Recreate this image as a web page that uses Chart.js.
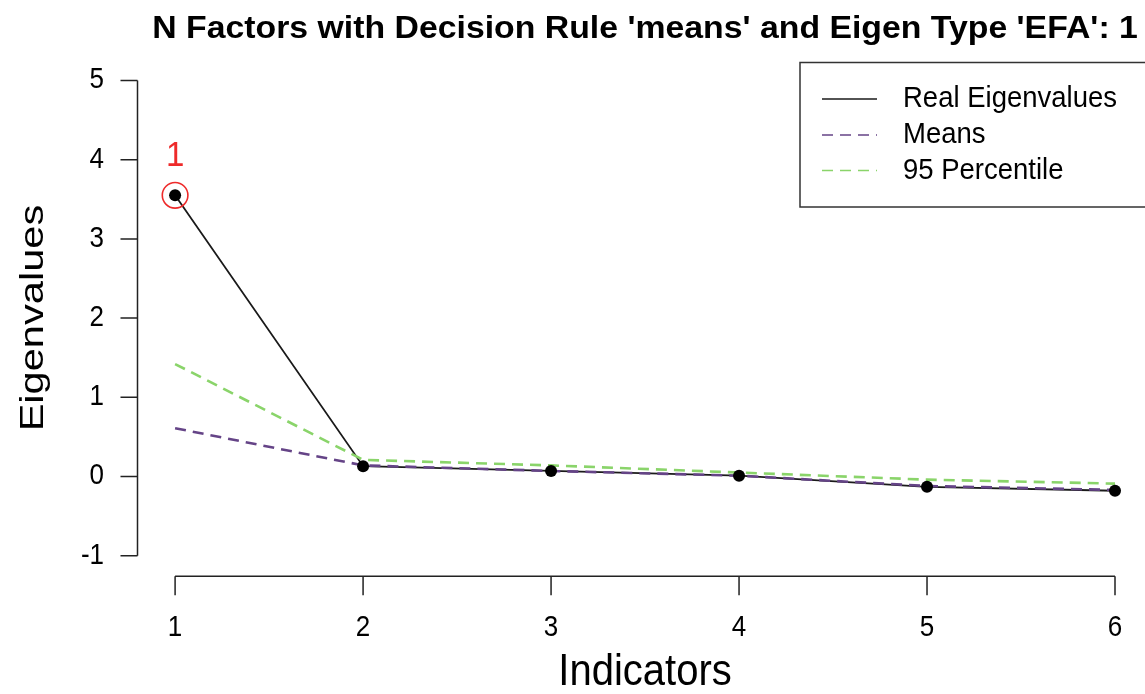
<!DOCTYPE html>
<html>
<head>
<meta charset="utf-8">
<script src="https://cdn.jsdelivr.net/npm/chart.js@4.4.1/dist/chart.umd.min.js"></script>
<style>
  html, body { margin: 0; padding: 0; background: #ffffff; overflow: hidden; }
  #wrap { width: 1145px; height: 694px; overflow: hidden; position: relative; }
  canvas { display: block; }
</style>
</head>
<body>
<div id="wrap"><canvas id="scree" width="1160" height="694"></canvas></div>
<script>
// Scree data: observed eigenvalues against simulated reference eigenvalues
const indicators = [1, 2, 3, 4, 5, 6];
const realEigenvalues = [3.55, 0.13, 0.07, 0.01, -0.13, -0.18];
const meanEigenvalues = [0.61, 0.14, 0.07, 0.01, -0.12, -0.17];
const percentile95 = [1.42, 0.21, 0.14, 0.05, -0.04, -0.09];

const yTicks = [-1, 0, 1, 2, 3, 4, 5];
const xTicks = indicators;
const nFactors = 1;

const titleText = "N Factors with Decision Rule 'means' and Eigen Type 'EFA': " + nFactors;
const seriesNames = ['Real Eigenvalues', 'Means', '95 Percentile'];
const xTitle = 'Indicators';
const yTitle = 'Eigenvalues';

const COL_REAL = '#1a1a1a';
const COL_MEAN = '#654487';
const COL_P95 = '#8ad46a';
const DASH = [11, 7];
const FONT = '"Liberation Sans", Arial, Helvetica, sans-serif';

const toXY = arr => arr.map((v, i) => ({ x: indicators[i], y: v }));

// Draw text with an optional stretch (sx, sy) and rotation
function drawText(ctx, txt, x, y, opt) {
  ctx.save();
  ctx.translate(x, y);
  if (opt.rot) ctx.rotate(opt.rot);
  ctx.scale(opt.sx || 1, opt.sy || 1);
  ctx.font = opt.font;
  ctx.fillStyle = opt.color || '#000';
  ctx.textAlign = opt.align || 'center';
  ctx.textBaseline = opt.baseline || 'alphabetic';
  ctx.fillText(txt, 0, 0);
  ctx.restore();
}

const basePlot = {
  id: 'basePlot',
  afterDatasetsDraw(chart) {
    const { ctx, chartArea, scales } = chart;
    const xs = scales.x, ys = scales.y;

    ctx.save();
    ctx.strokeStyle = '#222';
    ctx.lineWidth = 1.5;
    ctx.lineCap = 'butt';

    // y axis: line from first to last tick, ticks pointing left
    const axX = chartArea.left;
    ctx.beginPath();
    ctx.moveTo(axX, ys.getPixelForValue(yTicks[0]));
    ctx.lineTo(axX, ys.getPixelForValue(yTicks[yTicks.length - 1]));
    yTicks.forEach(t => {
      const py = ys.getPixelForValue(t);
      ctx.moveTo(axX, py);
      ctx.lineTo(axX - 17, py);
    });
    ctx.stroke();
    yTicks.forEach(t => {
      drawText(ctx, String(t), 104, ys.getPixelForValue(t), {
        font: '26px ' + FONT, align: 'right', baseline: 'middle', sy: 1.1
      });
    });

    // x axis: line from first to last tick, ticks pointing down
    const axY = chartArea.bottom + 1.5;
    ctx.beginPath();
    ctx.moveTo(xs.getPixelForValue(xTicks[0]), axY);
    ctx.lineTo(xs.getPixelForValue(xTicks[xTicks.length - 1]), axY);
    xTicks.forEach(t => {
      const px = xs.getPixelForValue(t);
      ctx.moveTo(px, axY);
      ctx.lineTo(px, axY + 19);
    });
    ctx.stroke();
    xTicks.forEach(t => {
      drawText(ctx, String(t), xs.getPixelForValue(t), 628, {
        font: '26px ' + FONT, align: 'center', baseline: 'middle', sy: 1.1
      });
    });

    // Titles
    const midX = (chartArea.left + chartArea.right) / 2;
    const midY = (chartArea.top + chartArea.bottom) / 2;
    drawText(ctx, titleText, midX, 38, { font: 'bold 33.8px ' + FONT, sy: 0.95 });
    drawText(ctx, xTitle, midX, 685, { font: '40px ' + FONT, sy: 1.13 });
    drawText(ctx, yTitle, 43, midY, { font: '33px ' + FONT, rot: -Math.PI / 2, sx: 1.26 });

    // Highlight of the retained factor
    const idx = nFactors - 1;
    const cx = xs.getPixelForValue(indicators[idx]);
    const cy = ys.getPixelForValue(realEigenvalues[idx]);
    ctx.strokeStyle = '#ee2a2a';
    ctx.lineWidth = 1.6;
    ctx.beginPath();
    ctx.arc(cx, cy, 12.8, 0, Math.PI * 2);
    ctx.stroke();
    drawText(ctx, String(nFactors), cx, cy - 29, {
      font: '33px ' + FONT, color: '#ee2a2a', sy: 1.05
    });

    // Legend box
    const lx = 800, ly = 62.5, lw = 360, lh = 144.5;
    ctx.fillStyle = '#ffffff';
    ctx.fillRect(lx, ly, lw, lh);
    ctx.strokeStyle = '#333';
    ctx.lineWidth = 1.5;
    ctx.strokeRect(lx, ly, lw, lh);
    const rows = [99, 135, 170.5];
    chart.data.datasets.slice(0, 3).forEach((ds, i) => {
      const ry = rows[i];
      ctx.strokeStyle = ds.borderColor;
      ctx.lineWidth = 1.6;
      ctx.setLineDash(ds.borderDash || []);
      ctx.beginPath();
      ctx.moveTo(822, ry);
      ctx.lineTo(877, ry);
      ctx.stroke();
      ctx.setLineDash([]);
      drawText(ctx, seriesNames[i], 903, ry, {
        font: '27.5px ' + FONT, align: 'left', baseline: 'middle', sy: 1.1
      });
    });
    ctx.restore();
  }
};

new Chart(document.getElementById('scree'), {
  type: 'line',
  data: {
    datasets: [
      {
        label: seriesNames[0], data: toXY(realEigenvalues),
        borderColor: COL_REAL, borderWidth: 1.8, pointRadius: 0, order: 3
      },
      {
        label: seriesNames[1], data: toXY(meanEigenvalues),
        borderColor: COL_MEAN, borderWidth: 2.6, borderDash: DASH, pointRadius: 0, order: 2
      },
      {
        label: seriesNames[2], data: toXY(percentile95),
        borderColor: COL_P95, borderWidth: 2.6, borderDash: DASH, pointRadius: 0, order: 1
      },
      {
        label: 'points', data: toXY(realEigenvalues), showLine: false,
        pointRadius: 6, pointBackgroundColor: '#000', pointBorderWidth: 0,
        borderColor: '#000', order: 0
      }
    ]
  },
  options: {
    responsive: false,
    devicePixelRatio: 1,
    animation: false,
    events: [],
    layout: { padding: { left: 137.5, top: 61.5, right: 7.4, bottom: 119.3 } },
    elements: { line: { tension: 0, fill: false } },
    scales: {
      x: { type: 'linear', min: 0.8, max: 6.2, display: false },
      y: { type: 'linear', min: -1.24, max: 5.24, display: false }
    },
    plugins: { legend: { display: false }, tooltip: { enabled: false }, title: { display: false } }
  },
  plugins: [basePlot]
});
</script>
</body>
</html>
